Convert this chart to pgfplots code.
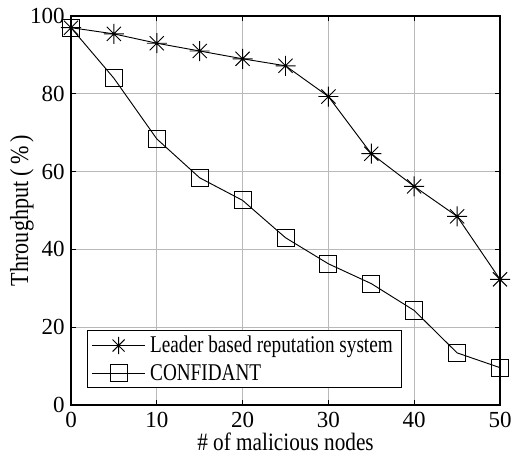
\documentclass[border=0pt]{standalone}
\usepackage{pgfplots}
\pgfplotsset{compat=1.18}
\usepackage{fontspec}
\setmainfont{Liberation Serif}
\newfontfamily\legfont{Liberation Serif}[FakeStretch=0.8]
\newfontfamily\labfont{Liberation Serif}[FakeStretch=0.85]
% matlab-like star: plus and cross together
\pgfdeclareplotmark{mstar}{%
  \pgfpathmoveto{\pgfqpoint{-\pgfplotmarksize}{0pt}}%
  \pgfpathlineto{\pgfqpoint{\pgfplotmarksize}{0pt}}%
  \pgfpathmoveto{\pgfqpoint{0pt}{-\pgfplotmarksize}}%
  \pgfpathlineto{\pgfqpoint{0pt}{\pgfplotmarksize}}%
  \pgfpathmoveto{\pgfqpoint{-0.7071\pgfplotmarksize}{-0.7071\pgfplotmarksize}}%
  \pgfpathlineto{\pgfqpoint{0.7071\pgfplotmarksize}{0.7071\pgfplotmarksize}}%
  \pgfpathmoveto{\pgfqpoint{-0.7071\pgfplotmarksize}{0.7071\pgfplotmarksize}}%
  \pgfpathlineto{\pgfqpoint{0.7071\pgfplotmarksize}{-0.7071\pgfplotmarksize}}%
  \pgfusepathqstroke}
\begin{document}
\begin{tikzpicture}
\begin{axis}[
    name=ax,
    width=321.75pt, height=291.75pt,
    scale only axis,
    xmin=0, xmax=50, ymin=0, ymax=100,
    xtick={0,10,...,50}, ytick={0,20,...,100},
    grid=major,
    major grid style={gray!55, line width=0.6pt},
    tick align=inside,
    major tick length=4pt,
    tick style={black, line width=0.6pt},
    axis line style={line width=0.9pt},
    /pgf/number format/assume math mode=true,
    ticklabel style={font=\fontsize{17.25}{20}\selectfont},
    yticklabel style={inner sep=0pt, xshift=-4.5pt},
    xticklabel style={inner sep=0pt, yshift=-5pt},
    xlabel={\# of malicious nodes},
    ylabel={Throughput (\hspace{3pt}\%\hspace{3pt})},
    xlabel style={font=\labfont\fontsize{18.75}{21}\selectfont,
        at={(axis description cs:0.5,-0.1157)}, anchor=base},
    ylabel style={font=\labfont\fontsize{19.5}{22}\selectfont,
        at={(axis description cs:-0.1142,0.5)}, anchor=center},
    legend style={at={(axis description cs:0.0373,0.0437)}, anchor=south west,
        draw=black, line width=0.9pt, font=\legfont\fontsize{18}{20}\selectfont,
        inner xsep=3pt, inner ysep=2pt, row sep=3pt,
        nodes={inner xsep=3.5pt, inner ysep=2pt},
        legend cell align=left},
    legend image code/.code={
        \draw[mark repeat=2,mark phase=2, mark size=6.4pt] plot coordinates {(3pt,0pt) (22.9pt,0pt) (42.75pt,0pt)};
    },
]
\addplot[black, line width=0.7pt, mark=mstar, mark size=7.5pt, mark options={line width=0.7pt}] coordinates {
    (0,97) (5,95.4) (10,93) (15,91) (20,89) (25,87.2)
    (30,79.3) (35,64.6) (40,56.2) (45,48.5) (50,32.3)
};
\addplot[black, line width=0.7pt, mark=square, mark size=6.4pt, mark options={line width=0.7pt}] coordinates {
    (0,97) (5,84) (10,68.4) (15,58.4) (20,52.6) (25,43)
    (30,36.3) (35,31.2) (40,24.3) (45,13.4) (50,9.6)
};
\legend{Leader based reputation system, CONFIDANT}
\end{axis}
\pgfresetboundingbox
\useasboundingbox ([shift={(-53.25pt,-39pt)}]ax.south west) rectangle ([shift={(10.5pt,12pt)}]ax.north east);
\end{tikzpicture}
\end{document}
